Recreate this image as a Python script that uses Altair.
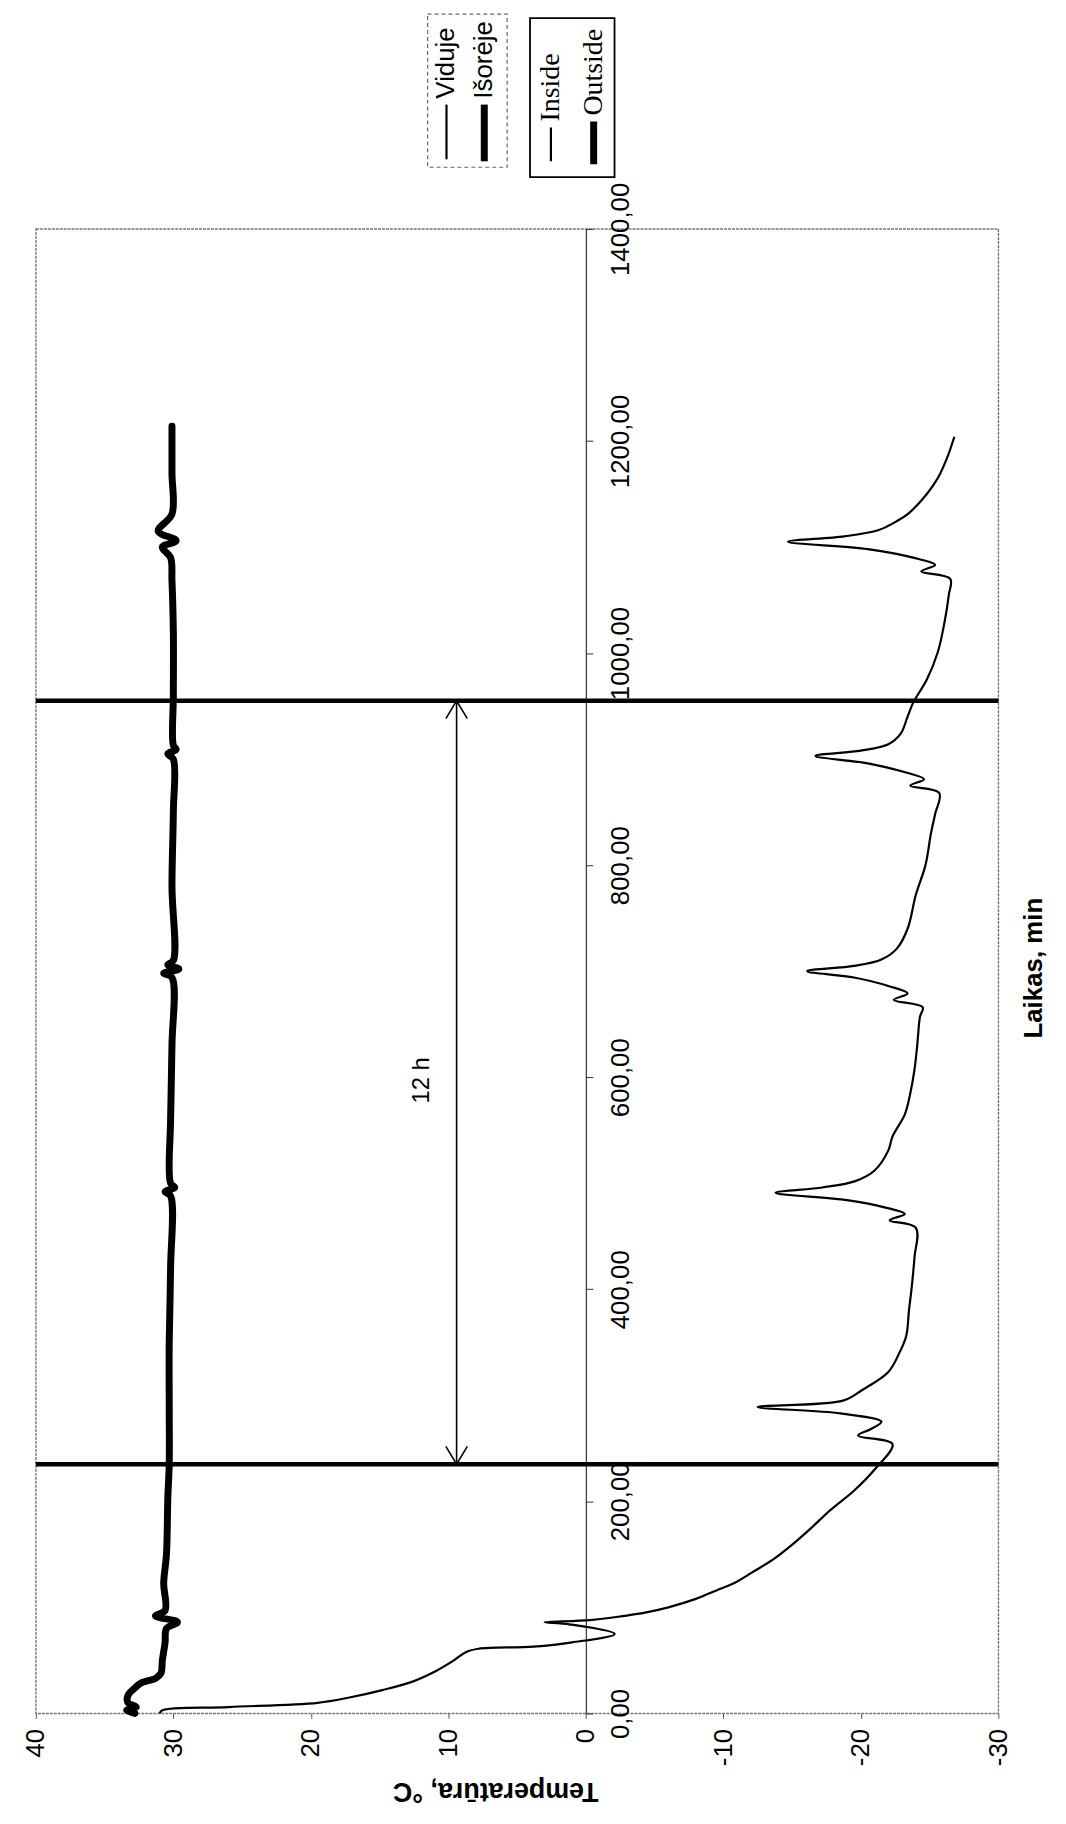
import altair as alt
import pandas as pd

# ---------------- data ----------------
inside_time = [0, 3, 6, 10, 15, 22, 30, 40, 50, 58, 61, 63, 67, 75, 84, 86, 88, 92, 95, 100,
               108, 116, 123, 133, 145, 158, 175, 192, 210, 230, 254, 262, 268, 275, 283, 289,
               295, 305, 322, 340, 356, 380, 402, 430, 458, 465, 471, 477, 484, 491, 496, 502,
               512, 531, 544, 565, 585, 607, 630, 657, 666, 673, 679, 686, 694, 700, 705, 711,
               721, 740, 772, 800, 830, 848, 868, 875, 881, 888, 896, 903, 908, 914, 924, 940,
               953, 975, 1001, 1030, 1055, 1070, 1077, 1083, 1090, 1098, 1105, 1110, 1116, 1125,
               1132, 1150, 1165, 1185, 1204]
inside_temp = [31.0, 30.8, 26.0, 19.5, 17.2, 14.8, 12.6, 10.9, 9.6, 8.7, 7.8, 3.8, 1.0, -2.1,
               1.2, 3.0, -0.3, -2.8, -4.3, -6.0, -8.0, -9.5, -10.8, -12.1, -13.6, -14.9, -16.4,
               -17.8, -19.5, -21.0, -22.3, -19.8, -20.7, -21.5, -18.5, -12.5, -18.7, -20.1,
               -22.0, -22.8, -23.3, -23.5, -23.7, -23.9, -24.0, -22.1, -23.2, -21.8, -19.0,
               -13.8, -17.2, -19.6, -21.0, -22.0, -22.3, -23.2, -23.6, -23.9, -24.1, -24.3,
               -24.5, -22.4, -23.4, -22.0, -19.5, -16.1, -19.5, -21.5, -22.6, -23.4, -24.0,
               -24.7, -25.1, -25.4, -25.7, -23.6, -24.6, -23.1, -20.5, -16.7, -20.0, -22.0,
               -22.9, -23.4, -23.8, -24.8, -25.6, -26.1, -26.4, -26.5, -24.4, -25.4, -23.8,
               -20.5, -14.7, -18.8, -21.3, -22.7, -23.5, -24.8, -25.6, -26.3, -26.8]

outside_time = [0, 3, 6, 10, 17, 24, 29, 33, 38, 50, 67, 80, 86, 92, 97, 123, 150, 204, 235,
                290, 350, 420, 488, 492, 496, 500, 560, 630, 694, 698, 702, 706, 710, 780, 850,
                900, 905, 909, 913, 960, 1020, 1068, 1090, 1100, 1106, 1115, 1131, 1170, 1214]
outside_temp = [32.8, 33.4, 32.7, 33.3, 33.3, 32.8, 32.3, 31.3, 30.9, 30.8, 30.6, 30.5, 29.7,
                31.3, 30.6, 30.7, 30.5, 30.4, 30.3, 30.3, 30.3, 30.2, 30.2, 30.6, 29.9, 30.2,
                30.2, 30.1, 30.1, 30.7, 29.6, 30.4, 30.0, 30.1, 30.0, 30.0, 30.4, 29.8, 30.0,
                30.0, 30.0, 30.1, 30.2, 30.8, 29.8, 31.1, 30.1, 30.1, 30.1]

marker_times = [235, 955]          # the two thick markers (12 h apart)
marker_span = [40, -30]
arrow_temp = [9.4]
arrow_label = ["12 h"]
arrow_label_temp = [11.9]
arrow_label_time = [597]
temp_ticks = [40, 30, 20, 10, 0, -10, -20, -30]
time_ticks = [0, 200, 400, 600, 800, 1000, 1200, 1400]

# ---------------- layout ----------------
W, H = 968, 1493
SANS = "Liberation Sans"
SERIF = "Liberation Serif"

x_axis = alt.Axis(
    values=temp_ticks,
    labelExpr="datum.value < 0 ? '-' + abs(datum.value) : '' + datum.value",
    labelAngle=270, labelAlign="right", labelBaseline="middle",
    labelFont=SANS, labelFontSize=26, labelColor="black", labelPadding=10,
    labelFlush=False, labelOverlap=False,
    tickSize=5, tickColor="#555", domain=False, grid=False,
    title="Temperatūra, °C", titleFont=SANS, titleFontSize=27, titleFontWeight="bold",
    titleColor="black", titleAngle=180, titleX=462, titleY=77,
    titleAlign="center", titleBaseline="middle",
)
y_axis = alt.Axis(
    orient="right", offset=-(W * 30 / 70),
    values=time_ticks,
    labelExpr="replace(format(datum.value, '.2f'), '.', ',')",
    labelAngle=270, labelAlign="center", labelBaseline="top",
    labelFont=SANS, labelFontSize=26, labelColor="black", labelPadding=15,
    labelFlush=False, labelOverlap=False,
    tickSize=7, tickColor="#333", domainColor="#333", domainWidth=1.2, grid=False,
    title="Laikas, min", titleFont=SANS, titleFontSize=26, titleFontWeight="bold",
    titleColor="black", titleAngle=270, titleX=450, titleY=743,
    titleAlign="center", titleBaseline="middle",
)


def X(field):
    return alt.X(field, type="quantitative",
                 scale=alt.Scale(domain=[-30, 40], reverse=True, nice=False, zero=False),
                 axis=x_axis)


def Y(field):
    return alt.Y(field, type="quantitative",
                 scale=alt.Scale(domain=[0, 1400], nice=False, zero=False),
                 axis=y_axis)


inside_df = pd.DataFrame({"time": inside_time, "temp": inside_temp})
outside_df = pd.DataFrame({"time": outside_time, "temp": outside_temp})
marker_df = pd.DataFrame({"time": marker_times, "lo": [marker_span[0]] * 2, "hi": [marker_span[1]] * 2})
arrow_df = pd.DataFrame({"temp": arrow_temp, "start": [marker_times[0]], "end": [marker_times[1]]})
arrow_top_df = pd.DataFrame({"temp": arrow_temp, "time": [marker_times[1]]})
arrow_bot_df = pd.DataFrame({"temp": arrow_temp, "time": [marker_times[0]]})
label_df = pd.DataFrame({"temp": arrow_label_temp, "time": arrow_label_time, "label": arrow_label})

inside = alt.Chart(inside_df).mark_line(color="black", strokeWidth=2.2, strokeJoin="round",
                                        interpolate="catmull-rom").encode(
    x=X("temp"), y=Y("time"), order="time:Q")
outside = alt.Chart(outside_df).mark_line(color="black", strokeWidth=7, strokeJoin="round",
                                          strokeCap="round", interpolate="catmull-rom").encode(
    x=X("temp"), y=Y("time"), order="time:Q")
markers = alt.Chart(marker_df).mark_rule(color="black", strokeWidth=4.5).encode(
    y=Y("time"), x=X("lo"), x2="hi")
arrow = alt.Chart(arrow_df).mark_rule(color="black", strokeWidth=1.6).encode(
    x=X("temp"), y=Y("start"), y2="end")
head_top = alt.Chart(arrow_top_df).mark_point(shape="M-0.6,1L0,0L0.6,1", size=1296, filled=False,
                                              color="black", strokeWidth=1.6, opacity=1).encode(
    x=X("temp"), y=Y("time"))
head_bot = alt.Chart(arrow_bot_df).mark_point(shape="M-0.6,-1L0,0L0.6,-1", size=1296, filled=False,
                                              color="black", strokeWidth=1.6, opacity=1).encode(
    x=X("temp"), y=Y("time"))
arrow_text = alt.Chart(label_df).mark_text(angle=270, font=SANS, fontSize=24, color="black",
                                           align="center", baseline="middle").encode(
    x=X("temp"), y=Y("time"), text="label:N")

# ---------------- legends (drawn as in the scan: rotated) ----------------
dummy = pd.DataFrame({"k": [0]})


def box(x1, x2, y1, y2, **kw):
    return alt.Chart(dummy).mark_rect(fillOpacity=0, **kw).encode(
        x=alt.value(x1), x2=alt.value(x2), y=alt.value(y1), y2=alt.value(y2))


def swatch(x, y1, y2, w):
    return alt.Chart(dummy).mark_rule(color="black", strokeWidth=w).encode(
        x=alt.value(x), y=alt.value(y1), y2=alt.value(y2))


def ltext(txt, x, y, font, size):
    return alt.Chart(dummy).mark_text(text=txt, angle=270, align="left", baseline="middle",
                                      font=font, fontSize=size, color="black").encode(
        x=alt.value(x), y=alt.value(y))


legend_layers = [
    box(394, 474, -216, -62, stroke="#666", strokeWidth=1.2, strokeDash=[4, 3]),
    swatch(413, -125, -70, 2.2),
    ltext("Viduje", 413, -131, SANS, 26),
    swatch(451, -125, -68, 7),
    ltext("Išorėje", 451, -131, SANS, 26),
    box(497, 582, -212, -52, stroke="black", strokeWidth=1.8),
    swatch(518, -102, -68, 2.2),
    ltext("Inside", 518, -108, SERIF, 28),
    swatch(561, -108, -65, 7),
    ltext("Outside", 561, -114, SERIF, 28),
]

chart = alt.layer(
    markers, inside, outside, arrow, head_top, head_bot, arrow_text, *legend_layers
).properties(
    width=W, height=H,
    autosize=alt.AutoSizeParams(type="none"),
    padding={"left": 28, "top": 217, "right": 60, "bottom": 95},
    background="white",
).configure_view(
    stroke="#777", strokeWidth=1.4, strokeDash=[3, 1]
)

chart.save("out.html", embed_options={"renderer": "svg", "actions": False})
